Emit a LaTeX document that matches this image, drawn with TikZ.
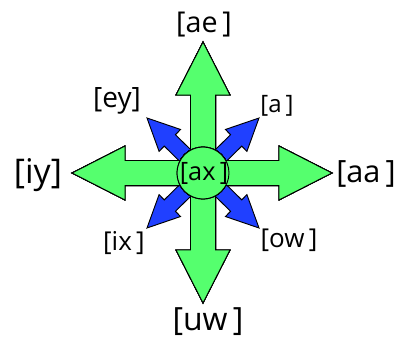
\documentclass[tikz,border=0pt]{standalone}
\usepackage{fontspec}
\setmainfont{Open Sans}
\usetikzlibrary{calc}
\definecolor{mint}{RGB}{85,255,110}
\definecolor{royal}{RGB}{32,64,255}
\tikzset{
  fat/.style={draw=black,fill=#1,line width=0.7pt,line join=miter},
  fat/.default=mint,
  hub/.style={circle,draw=black,fill=mint,line width=0.7pt,minimum size=39pt,inner sep=0pt},
  lbl/.style={font=\fontsize{#1}{#1}\selectfont,inner sep=0pt},
}
% fat arrow: style, from, to, shaft half width, head half width, head length
\newcommand\fatarrow[6]{%
  \path ($(#3)!#6!(#2)$) coordinate (hb);
  \draw[#1] ($(#2)!#4!90:(#3)$) -- ($(hb)!#4!90:(#3)$) -- ($(hb)!#5!90:(#3)$)
    -- (#3) -- ($(hb)!#5!-90:(#3)$) -- ($(hb)!#4!-90:(#3)$) -- ($(#2)!#4!-90:(#3)$) -- cycle;
}
\begin{document}
\begin{tikzpicture}[x=0.75pt,y=-0.75pt]
  \useasboundingbox (0,0) rectangle (397,339);
  \coordinate (mid) at (203,173);
  % tips
  \coordinate (ae tip) at (203,42);
  \coordinate (uw tip) at (203,303);
  \coordinate (iy tip) at (72,173);
  \coordinate (aa tip) at (332,173);
  \coordinate (ey tip) at (147,118);
  \coordinate (a tip) at (259,118);
  \coordinate (ix tip) at (147,228);
  \coordinate (ow tip) at (259,228);
  % diagonal ones first
  \foreach \t in {ey,a,ix,ow}
    \fatarrow{fat=royal}{mid}{\t\space tip}{6pt}{11.5pt}{24pt}
  \foreach \t in {ae,uw,iy,aa}
    \fatarrow{fat}{mid}{\t\space tip}{9.4pt}{20.25pt}{39.75pt}
  \node[hub] (ax) at (mid) {};
  \node[lbl=19pt] (ax label) at (204,173) {[ax\,]};
  % labels
  \node[lbl=21.5pt] (ae) at (204,25) {[ae\,]};
  \node[lbl=24pt] (uw) at (208,322) {[uw\,]};
  \node[lbl=25.5pt] (iy) at (38,175) {[iy]};
  \node[lbl=23pt] (aa) at (366,173.5) {[aa\,]};
  \node[lbl=21pt] (ey) at (117,101) {[ey]};
  \node[lbl=18pt] (a) at (277,105.5) {[a\,]};
  \node[lbl=19.5pt] (ix) at (124,243.5) {[ix\,]};
  \node[lbl=19.5pt] (ow) at (289,240) {[ow\,]};
\end{tikzpicture}
\end{document}
